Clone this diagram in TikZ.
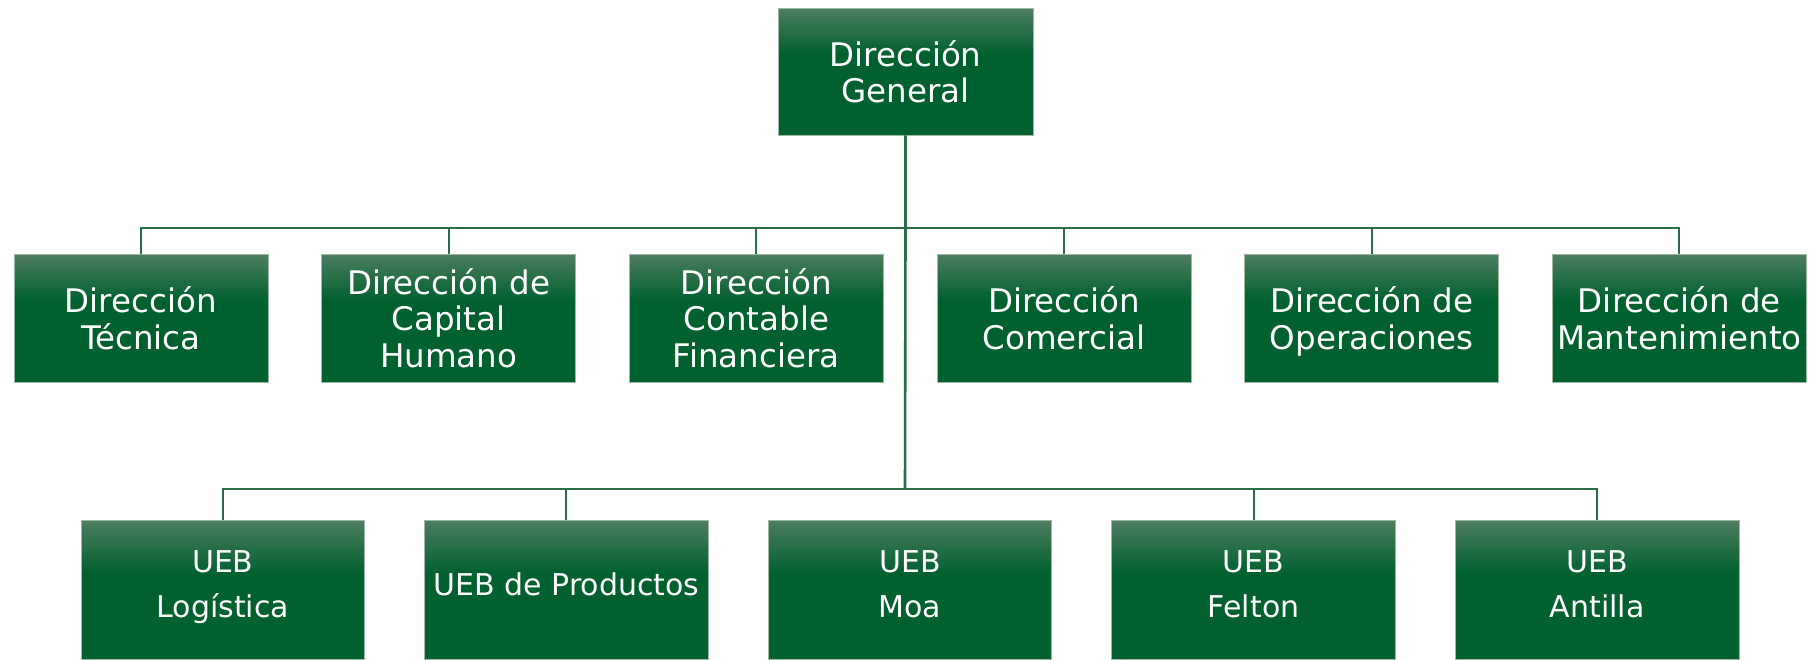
\documentclass[tikz,border=0pt]{standalone}
\usepackage{fontspec}
\setmainfont{DejaVu Sans}
\definecolor{boxdark}{HTML}{00602E}
\definecolor{boxlight}{HTML}{4D7D5F}
\definecolor{boxedge}{HTML}{9DB8A6}
\definecolor{linecol}{HTML}{2A6E47}
\lineskiplimit=-100pt
\lineskip=0pt
\newcommand\midln{\rule[-8.5pt]{0pt}{42.5pt}}
\newcommand\lowln{\rule[-17pt]{0pt}{45.4pt}}
\newcommand\midfont{\fontsize{32.5}{36.5}\selectfont\lineskiplimit=-100pt\relax}
\newcommand\lowfont{\fontsize{30}{45}\selectfont\lineskiplimit=-100pt\relax}
\begin{document}
\begin{tikzpicture}[x=1pt,y=-1pt,
  box/.style={rectangle, fill=boxdark, draw=boxedge, line width=0.8pt,
    inner sep=0pt, text=white, align=center,
    font=\midfont,
    path picture={
      \foreach \gi in {0,...,29}{
        \pgfmathsetmacro\gp{\gi*100/29}
        \pgfmathsetmacro\gya{-\gi*#1/30}
        \pgfmathsetmacro\gyb{-(\gi+1)*#1/30-0.6}
        \fill[boxdark!\gp!boxlight]
          ([yshift=\gya pt]path picture bounding box.north west) rectangle
          ([yshift=\gyb pt]path picture bounding box.north east);}}},
  box/.default=48,
  topbox/.style={box, minimum width=255pt, minimum height=127pt},
  midbox/.style={box, minimum width=254pt, minimum height=128pt},
  lowbox/.style={box=55, minimum width=283.5pt, minimum height=139pt,
    font=\lowfont},
  conn/.style={draw=linecol, line width=2pt},
  trunk/.style={draw=linecol, line width=2.6pt}]
\useasboundingbox (0,0) rectangle (1814,659);
\fill[white] (0,0) rectangle (1814,659);

% top
\node[topbox] (dg) at (905.5,71.5) {\midln Dirección\\\midln General};

% second row
\node[midbox] (t1) at (140.9,318) {\midln Dirección\\\midln Técnica};
\node[midbox] (t2) at (448.6,318) {\midln Dirección de\\\midln Capital\\\midln Humano};
\node[midbox] (t3) at (756.3,318) {\midln Dirección\\\midln Contable\\\midln Financiera};
\node[midbox] (t4) at (1064,318) {\midln Dirección\\\midln Comercial};
\node[midbox] (t5) at (1371.7,318) {\midln Dirección de\\\midln Operaciones};
\node[midbox] (t6) at (1679.4,318) {\midln Dirección de\\\midln Mantenimiento};

% third row
\node[lowbox] (u1) at (222.8,589.5) {\lowln UEB\\\lowln Logística};
\node[lowbox] (u2) at (566.4,589.5) {\lowln UEB de Productos};
\node[lowbox] (u3) at (910,589.5) {\lowln UEB\\\lowln Moa};
\node[lowbox] (u4) at (1253.6,589.5) {\lowln UEB\\\lowln Felton};
\node[lowbox] (u5) at (1597.2,589.5) {\lowln UEB\\\lowln Antilla};

% bus coordinates
\coordinate (busA) at (905.5,228);
\coordinate (busB) at (905,489);

% connectors
\draw[trunk] (dg.south) -- (busA) -- (busB);
\draw[conn] (t1.north) |- (busA) -| (t6.north);
\draw[conn] (t2.north) -- (t2.north |- busA);
\draw[conn] (t3.north) -- (t3.north |- busA);
\draw[conn] (t4.north) -- (t4.north |- busA);
\draw[conn] (t5.north) -- (t5.north |- busA);
\draw[conn] (u1.north) |- (busB) -| (u5.north);
\draw[conn] (u2.north) -- (u2.north |- busB);
\draw[conn] (u4.north) -- (u4.north |- busB);
\end{tikzpicture}
\end{document}
